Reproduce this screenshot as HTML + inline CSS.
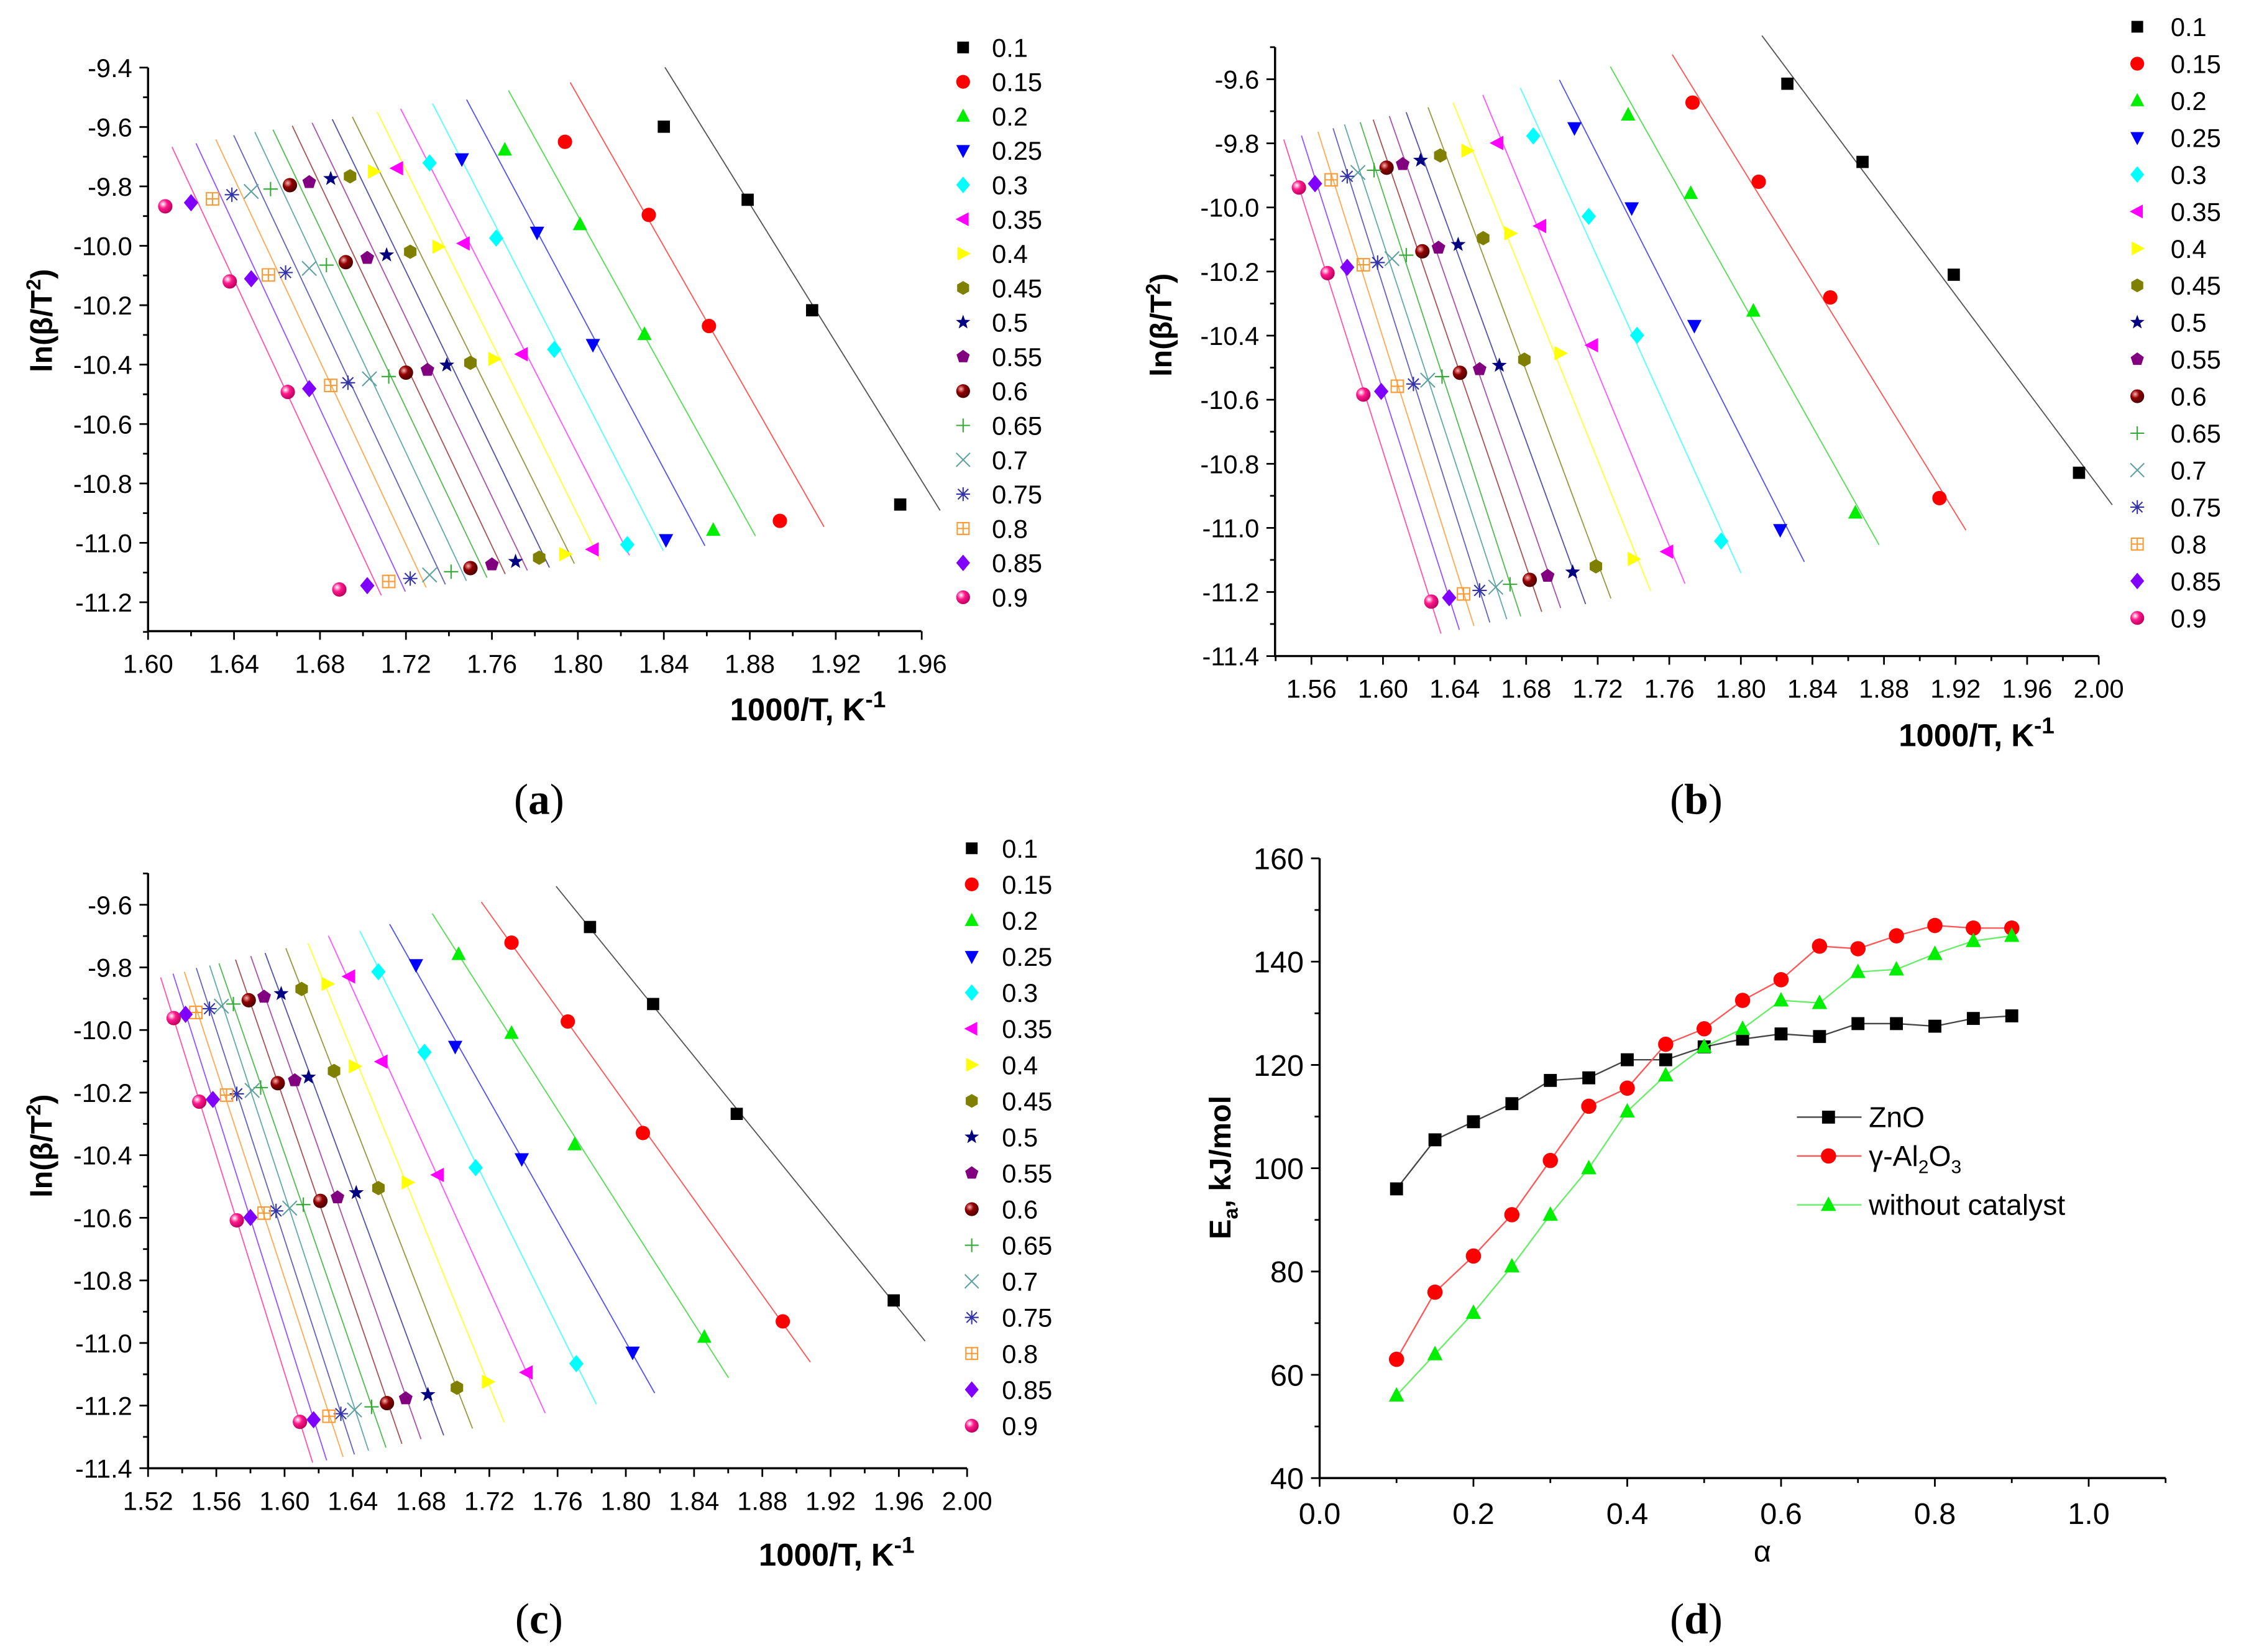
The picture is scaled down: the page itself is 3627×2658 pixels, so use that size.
<!DOCTYPE html>
<html><head><meta charset="utf-8"><title>Kinetic plots</title>
<style>
html,body{margin:0;padding:0;background:#fff;}
svg{display:block;}
text{font-family:"Liberation Sans",Arial,sans-serif;}
.serif{font-family:"Liberation Serif","Times New Roman",serif;}
</style></head>
<body>
<svg id="fig" xmlns="http://www.w3.org/2000/svg" width="3627" height="2658" viewBox="0 0 1568 1149" preserveAspectRatio="none">
<defs>
<radialGradient id="gSph1" cx="35%" cy="35%" r="65%"><stop offset="0" stop-color="#ffb0b0"/><stop offset="0.45" stop-color="#900000"/><stop offset="1" stop-color="#500000"/></radialGradient>
<radialGradient id="gSph2" cx="35%" cy="35%" r="65%"><stop offset="0" stop-color="#ffffff"/><stop offset="0.45" stop-color="#ff1a8c"/><stop offset="1" stop-color="#c00060"/></radialGradient>
</defs>
<rect x="0" y="0" width="1568" height="1149" fill="#ffffff"/>
<g id="layer"></g>
</svg>
<script>
// ---------- DATA ----------
const alphaLabels = ["0.1","0.15","0.2","0.25","0.3","0.35","0.4","0.45","0.5","0.55","0.6","0.65","0.7","0.75","0.8","0.85","0.9"];

// panel (a)
const aX = [
 [1.840,1.879,1.909,1.950],[1.794,1.833,1.861,1.894],[1.766,1.801,1.831,1.863],[1.746,1.781,1.807,1.841],
 [1.731,1.762,1.789,1.823],[1.716,1.747,1.774,1.807],[1.705,1.735,1.761,1.794],[1.694,1.722,1.750,1.782],
 [1.685,1.711,1.739,1.771],[1.675,1.702,1.730,1.760],[1.666,1.692,1.720,1.750],[1.657,1.683,1.712,1.741],
 [1.648,1.675,1.703,1.731],[1.639,1.664,1.693,1.722],[1.630,1.656,1.685,1.712],[1.620,1.648,1.675,1.702],
 [1.608,1.638,1.665,1.689]];
const aY = [
 [-9.599,-9.845,-10.217,-10.871],[-9.650,-9.896,-10.270,-10.926],[-9.677,-9.928,-10.298,-10.957],[-9.708,-9.955,-10.333,-10.990],
 [-9.721,-9.974,-10.349,-11.006],[-9.739,-9.992,-10.365,-11.022],[-9.750,-10.003,-10.381,-11.038],[-9.766,-10.020,-10.394,-11.050],
 [-9.774,-10.031,-10.402,-11.063],[-9.786,-10.041,-10.418,-11.073],[-9.796,-10.055,-10.427,-11.085],[-9.809,-10.065,-10.440,-11.097],
 [-9.817,-10.076,-10.448,-11.108],[-9.828,-10.090,-10.461,-11.120],[-9.842,-10.098,-10.470,-11.130],[-9.855,-10.111,-10.481,-11.144],
 [-9.867,-10.120,-10.492,-11.157]];

// panel (b)
const bX = [
 [1.826,1.868,1.919,1.989],[1.773,1.810,1.850,1.911],[1.737,1.772,1.807,1.864],[1.707,1.739,1.774,1.822],
 [1.684,1.715,1.742,1.789],[1.664,1.688,1.717,1.759],[1.647,1.671,1.699,1.740],[1.632,1.656,1.679,1.719],
 [1.621,1.642,1.665,1.706],[1.611,1.631,1.654,1.692],[1.602,1.622,1.643,1.682],[1.595,1.613,1.633,1.671],
 [1.586,1.605,1.625,1.663],[1.580,1.597,1.617,1.654],[1.571,1.589,1.608,1.645],[1.562,1.580,1.599,1.637],
 [1.553,1.569,1.589,1.627]];
const bY = [
 [-9.614,-9.858,-10.210,-10.828],[-9.673,-9.920,-10.281,-10.907],[-9.711,-9.956,-10.323,-10.953],[-9.752,-10.002,-10.369,-11.006],
 [-9.777,-10.028,-10.399,-11.041],[-9.799,-10.058,-10.430,-11.074],[-9.823,-10.081,-10.455,-11.097],[-9.838,-10.096,-10.475,-11.120],
 [-9.853,-10.116,-10.493,-11.138],[-9.865,-10.126,-10.505,-11.150],[-9.876,-10.137,-10.516,-11.162],[-9.884,-10.149,-10.528,-11.176],
 [-9.891,-10.160,-10.539,-11.185],[-9.903,-10.172,-10.551,-11.195],[-9.914,-10.179,-10.558,-11.206],[-9.926,-10.187,-10.574,-11.218],
 [-9.938,-10.205,-10.584,-11.230]];

// panel (c)
const cX = [
 [1.779,1.816,1.865,1.957],[1.733,1.766,1.810,1.892],[1.702,1.733,1.770,1.846],[1.677,1.700,1.739,1.804],
 [1.655,1.682,1.712,1.771],[1.638,1.657,1.690,1.742],[1.625,1.641,1.672,1.719],[1.610,1.629,1.655,1.701],
 [1.598,1.614,1.642,1.684],[1.588,1.606,1.631,1.671],[1.579,1.596,1.621,1.660],[1.570,1.586,1.611,1.651],
 [1.563,1.581,1.603,1.641],[1.556,1.572,1.595,1.633],[1.548,1.566,1.588,1.626],[1.542,1.558,1.580,1.617],
 [1.535,1.550,1.572,1.609]];
const cY = [
 [-9.671,-9.917,-10.268,-10.864],[-9.721,-9.973,-10.329,-10.931],[-9.758,-10.010,-10.366,-10.981],[-9.792,-10.053,-10.412,-11.030],
 [-9.814,-10.071,-10.440,-11.066],[-9.829,-10.101,-10.463,-11.094],[-9.853,-10.116,-10.487,-11.124],[-9.869,-10.131,-10.505,-11.143],
 [-9.884,-10.151,-10.520,-11.165],[-9.894,-10.161,-10.535,-11.177],[-9.905,-10.170,-10.546,-11.192],[-9.917,-10.184,-10.558,-11.204],
 [-9.924,-10.193,-10.569,-11.214],[-9.932,-10.204,-10.578,-11.226],[-9.944,-10.208,-10.585,-11.234],[-9.950,-10.222,-10.599,-11.245],
 [-9.962,-10.229,-10.608,-11.252]];

// panel (d)
const dAlpha = [0.1,0.15,0.2,0.25,0.3,0.35,0.4,0.45,0.5,0.55,0.6,0.65,0.7,0.75,0.8,0.85,0.9];
const dZnO = [96,105.5,109,112.5,117,117.5,121,121,123.5,125,126,125.5,128,128,127.5,129,129.5];
const dAl2O3 = [63,76,83,91,101.5,112,115.5,124,127,132.5,136.5,143,142.5,145,147,146.5,146.5];
const dNone = [56,64,72,81,91,100,111,118,123.5,127,132.5,132,138,138.5,141.5,144,145];
const dYTicks = [40,60,80,100,120,140,160];
const dXTicks = [0.0,0.2,0.4,0.6,0.8,1.0];

// ---------- STYLE ----------
const markerKinds = ["square","circle","tri-up","tri-down","diamond","tri-left","tri-right","hexagon","star","pentagon","sphere1","plus","cross","asterisk","sqplus","diamond","sphere2"];
const markerColors = ["#000000","#ff0000","#00ee00","#0000ff","#00ffff","#ff00ff","#ffff00","#808000","#000080","#800080","#800000","#33aa33","#5fa0a0","#3333aa","#ff9933","#8000ff","#ff1a8c"];
const lineColors = ["#555555","#ff5555","#55dd55","#5555ee","#55ffff","#ff55ff","#ffff33","#999944","#5555aa","#aa55aa","#aa5555","#55bb55","#66aaaa","#6666bb","#ffaa55","#9955ff","#ff55aa"];

const NS = "http://www.w3.org/2000/svg";
const layer = document.getElementById("layer");
function mk(tag, parent){ const e = document.createElementNS(NS, tag); (parent||layer).appendChild(e); return e; }
function setA(e, o){ for (const k in o) e.setAttribute(k, o[k]); return e; }
function fmt(v, d){ return v.toFixed(d); }

function drawMarker(g, kind, color, x, y, s){
  let e;
  const r = s;
  if (kind === "square"){ e = mk("rect", g); setA(e,{x:x-r*0.85,y:y-r*0.85,width:r*1.7,height:r*1.7,fill:color}); }
  else if (kind === "circle"){ e = mk("circle", g); setA(e,{cx:x,cy:y,r:r,fill:color}); }
  else if (kind === "sphere1" || kind === "sphere2"){ e = mk("circle", g); setA(e,{cx:x,cy:y,r:r,fill: kind==="sphere1"?"url(#gSph1)":"url(#gSph2)"}); }
  else if (kind.startsWith("tri")){
    let p;
    if (kind==="tri-up") p=[[x,y-r*1.1],[x+r,y+r*0.8],[x-r,y+r*0.8]];
    else if (kind==="tri-down") p=[[x,y+r*1.1],[x+r,y-r*0.8],[x-r,y-r*0.8]];
    else if (kind==="tri-left") p=[[x-r*1.1,y],[x+r*0.8,y-r],[x+r*0.8,y+r]];
    else p=[[x+r*1.1,y],[x-r*0.8,y-r],[x-r*0.8,y+r]];
    e = mk("polygon", g); setA(e,{points:p.map(q=>q.join(",")).join(" "),fill:color});
  }
  else if (kind === "diamond"){ e = mk("polygon", g); setA(e,{points:`${x},${y-r*1.2} ${x+r},${y} ${x},${y+r*1.2} ${x-r},${y}`,fill:color}); }
  else if (kind === "hexagon" || kind === "pentagon"){
    const n = kind==="hexagon"?6:5, pts=[];
    for (let i=0;i<n;i++){ const a = -Math.PI/2 + i*2*Math.PI/n; pts.push((x+r*Math.cos(a)).toFixed(2)+","+(y+r*Math.sin(a)).toFixed(2)); }
    e = mk("polygon", g); setA(e,{points:pts.join(" "),fill:color});
  }
  else if (kind === "star"){
    const pts=[];
    for (let i=0;i<10;i++){ const a=-Math.PI/2+i*Math.PI/5; const rr = i%2?r*0.45:r*1.1; pts.push((x+rr*Math.cos(a)).toFixed(2)+","+(y+rr*Math.sin(a)).toFixed(2)); }
    e = mk("polygon", g); setA(e,{points:pts.join(" "),fill:color});
  }
  else {
    e = mk("path", g);
    let d="";
    if (kind==="plus") d=`M${x-r},${y}H${x+r}M${x},${y-r}V${y+r}`;
    else if (kind==="cross") d=`M${x-r},${y-r}L${x+r},${y+r}M${x-r},${y+r}L${x+r},${y-r}`;
    else if (kind==="asterisk") d=`M${x-r},${y}H${x+r}M${x},${y-r}V${y+r}M${x-r*0.75},${y-r*0.75}L${x+r*0.75},${y+r*0.75}M${x-r*0.75},${y+r*0.75}L${x+r*0.75},${y-r*0.75}`;
    else if (kind==="sqplus") d=`M${x-r*0.85},${y-r*0.85}h${r*1.7}v${r*1.7}h${-r*1.7}zM${x-r*0.85},${y}h${r*1.7}M${x},${y-r*0.85}v${r*1.7}`;
    setA(e,{d:d,fill:"none",stroke:color,"stroke-width":0.9});
  }
  return e;
}

function text(g, x, y, str, size, anchor, weight){
  const t = mk("text", g);
  setA(t,{x:x,y:y,"font-size":size,"text-anchor":anchor||"start","font-weight":weight||"normal",fill:"#000"});
  t.textContent = str;
  return t;
}

function drawAxes(g, P){
  const ax = mk("path", g);
  setA(ax,{d:`M${P.axLeft},${P.axTop}V${P.axBottom}H${P.axRight}`,fill:"none",stroke:"#000","stroke-width":1.5});
  
  
}

function drawTicks(g, P, xVals, yVals, xMinor, yMinor, xDec, yDec){
  let d="";
  xVals.forEach(v=>{ const x=P.X(v); d+=`M${x},${P.axBottom}v6`; });
  yVals.forEach(v=>{ const y=P.Y(v); d+=`M${P.axLeft},${y}h-6`; });
  xMinor.forEach(v=>{ const x=P.X(v); d+=`M${x},${P.axBottom}v3.5`; });
  yMinor.forEach(v=>{ const y=P.Y(v); d+=`M${P.axLeft},${y}h-3.5`; });
  const t = mk("path", g);
  setA(t,{d:d,stroke:"#000","stroke-width":1.2,fill:"none"});
  
  
  xVals.forEach(v=>{
    const lb = text(g, P.X(v), P.axBottom+P.xLabOff, fmt(v,xDec), P.fs, "middle");
    
    
  });
  yVals.forEach(v=>{
    const lb = text(g, P.axLeft-11, P.Y(v)+6.5, fmt(v,yDec), P.fs, "end");
    
    
  });
}

function range(a,b,s){ const out=[]; for(let v=a; v<=b+1e-9; v+=s) out.push(+v.toFixed(4)); return out; }

function arrheniusPanel(name, P, XS, YS){
  const g = mk("g");
  
  
  P.X = v => P.x0 + (v - P.xv0)*P.sx;
  P.Y = v => P.y0 - (v - P.yv0)*P.sy;
  drawAxes(g,P);
  drawTicks(g,P,P.xTicks,P.yTicks,P.xMinor,P.yMinor,2,1);
  XS.forEach((xs,i)=>{
    const ys = YS[i], n = xs.length;
    const mx = xs.reduce((a,b)=>a+b,0)/n, my = ys.reduce((a,b)=>a+b,0)/n;
    let sxy=0,sxx=0; for(let k=0;k<n;k++){ sxy+=(xs[k]-mx)*(ys[k]-my); sxx+=(xs[k]-mx)**2; }
    const b = sxy/sxx, a = my - b*mx;
    const yt = Math.max(...ys)+P.extTop, yb = Math.min(...ys)-P.extBot;
    const xt = (yt-a)/b + P.shift, xb = (yb-a)/b + P.shift;
    const ln = mk("line", g);
    setA(ln,{x1:P.X(xt),y1:P.Y(yt),x2:P.X(xb),y2:P.Y(yb),stroke:lineColors[i],"stroke-width":0.8});
    
    
  });
  XS.forEach((xs,i)=>{
    const sg = mk("g", g);
    
    
    xs.forEach((xv,k)=>{
      const m = drawMarker(sg, markerKinds[i], markerColors[i], P.X(xv), P.Y(YS[i][k]), 5);
      
      
    });
  });
  const lg = mk("g", g);
  
  
  alphaLabels.forEach((lab,i)=>{
    const y = P.legY0 + i*P.legStep;
    const eg = mk("g", lg);
    
    
    drawMarker(eg, markerKinds[i], markerColors[i], P.legMX, y, 4.8);
    text(eg, P.legTX, y+6.5, lab, P.fs, "start");
  });
  const xt = mk("text", g);
  setA(xt,{x:P.xTitleX,y:P.xTitleY,"font-size":22,"font-weight":"bold","text-anchor":"middle"});
  xt.innerHTML = '1000/T, K<tspan dy="-9" font-size="16">-1</tspan>';
  
  
  const yt = mk("text", g);
  setA(yt,{x:0,y:0,"font-size":21,"font-weight":"bold","text-anchor":"middle",transform:`translate(${P.yTitleX},${P.yTitleY}) rotate(-90)`});
  yt.innerHTML = 'ln(β/T<tspan dy="-8" font-size="14">2</tspan><tspan dy="8">)</tspan>';
  
  
}

arrheniusPanel("panel-a", {x0:103,xv0:1.60,sx:1495,y0:47,yv0:-9.4,sy:206.6,
  axLeft:103,axRight:641,axTop:47,axBottom:439,fs:18,xLabOff:29,
  xTicks:range(1.60,1.96,0.04),yTicks:range(-11.2,-9.4,0.2),xMinor:range(1.62,1.94,0.04),yMinor:range(-11.3,-9.5,0.2),
  extTop:0.2,extBot:0.02,shift:0.009,legMX:670,legTX:690,legY0:33,legStep:23.9,
  xTitleX:562,xTitleY:501,yTitleX:36,yTitleY:223}, aX, aY);

arrheniusPanel("panel-b", {x0:912.3,xv0:1.56,sx:1244.7,y0:55.1,yv0:-9.6,sy:222.9,
  axLeft:887,axRight:1460,axTop:32.8,axBottom:456.3,fs:18,xLabOff:29,
  xTicks:range(1.56,2.00,0.04),yTicks:range(-11.4,-9.6,0.2),xMinor:range(1.54,1.98,0.04),yMinor:range(-11.3,-9.5,0.2),
  extTop:0.15,extBot:0.1,shift:0,legMX:1486.8,legTX:1510,legY0:18.6,legStep:25.7,
  xTitleX:1375,xTitleY:519,yTitleX:815,yTitleY:226}, bX, bY);

arrheniusPanel("panel-c", {x0:103,xv0:1.52,sx:1187,y0:629.3,yv0:-9.6,sy:217.7,
  axLeft:103,axRight:672.7,axTop:607.3,axBottom:1021.2,fs:18,xLabOff:29,
  xTicks:range(1.52,2.00,0.04),yTicks:range(-11.4,-9.6,0.2),xMinor:range(1.54,1.98,0.04),yMinor:range(-11.3,-9.5,0.2),
  extTop:0.13,extBot:0.13,shift:0,legMX:676,legTX:697,legY0:590,legStep:25.1,
  xTitleX:582,xTitleY:1089,yTitleX:36,yTitleY:797}, cX, cY);

// ---------- PANEL D ----------
(function(){
  const g = mk("g");
  
  
  const P = {axLeft:918,axRight:918+1.1*535,axTop:597,axBottom:1028,fs:21,xLabOff:32};
  P.X = v => 918 + v*535;
  P.Y = v => 597 + (160 - v)*3.592;
  drawAxes(g,P);
  let d="";
  dXTicks.forEach(v=>{ d+=`M${P.X(v)},${P.axBottom}v6`; });
  [0.1,0.3,0.5,0.7,0.9,1.1].forEach(v=>{ d+=`M${P.X(v)},${P.axBottom}v3.5`; });
  dYTicks.forEach(v=>{ d+=`M${P.axLeft},${P.Y(v)}h-6`; });
  [50,70,90,110,130,150].forEach(v=>{ d+=`M${P.axLeft},${P.Y(v)}h-3.5`; });
  const tk = mk("path", g);
  setA(tk,{d:d,stroke:"#000","stroke-width":1.2,fill:"none"});
  
  
  dXTicks.forEach(v=>{
    const t = text(g, P.X(v), P.axBottom+32, v.toFixed(1), 21, "middle");
    
    
  });
  dYTicks.forEach(v=>{
    const t = text(g, P.axLeft-11, P.Y(v)+7.5, String(v), 21, "end");
    
    
  });
  const series = [
    {name:"zno", vals:dZnO, kind:"square", mc:"#000000", lc:"#444444"},
    {name:"al2o3", vals:dAl2O3, kind:"circle", mc:"#ff0000", lc:"#ff5555"},
    {name:"no-catalyst", vals:dNone, kind:"tri-up", mc:"#00ee00", lc:"#66ee66"}
  ];
  series.forEach(s=>{
    const sg = mk("g", g);
    
    
    const pl = mk("polyline", sg);
    setA(pl,{points:dAlpha.map((a,i)=>P.X(a)+","+P.Y(s.vals[i])).join(" "),fill:"none",stroke:s.lc,"stroke-width":1});
    
    
    dAlpha.forEach((a,i)=>{
      const m = drawMarker(sg, s.kind, s.mc, P.X(a), P.Y(s.vals[i]), 5.3);
      
      
    });
  });
  const lg = mk("g", g);
  
  
  const rows = [777, 804, 838];
  const labels = ['ZnO','γ-Al<tspan dy="5" font-size="13">2</tspan><tspan dy="-5">O</tspan><tspan dy="5" font-size="13">3</tspan>','without catalyst'];
  series.forEach((s,i)=>{
    const eg = mk("g", lg);
    
    
    const l = mk("line", eg);
    setA(l,{x1:1250,y1:rows[i],x2:1295,y2:rows[i],stroke:s.lc,"stroke-width":1});
    drawMarker(eg, s.kind, s.mc, 1272, rows[i], 5.3);
    const t = mk("text", eg);
    setA(t,{x:1300,y:rows[i]+7,"font-size":20});
    t.innerHTML = labels[i];
  });
  const yt = mk("text", g);
  setA(yt,{x:0,y:0,"font-size":21,"font-weight":"bold","text-anchor":"middle",transform:`translate(856,812) rotate(-90)`});
  yt.innerHTML = 'E<tspan dy="5" font-size="14">a</tspan><tspan dy="-5">, kJ/mol</tspan>';
  
  
  const xt = text(g, 1226, 1086, "α", 21, "middle");
  
  
})();

// ---------- PANEL CAPTIONS ----------
[["(a)",375,566],["(b)",1180,566],["(c)",375,1136],["(d)",1180,1136]].forEach(c=>{
  const t = mk("text");
  setA(t,{x:c[1],y:c[2],"font-size":30,"text-anchor":"middle",class:"serif"});
  t.innerHTML = '(<tspan font-weight="bold">' + c[0][1] + '</tspan>)';
  
  
});
</script>
</body></html>
